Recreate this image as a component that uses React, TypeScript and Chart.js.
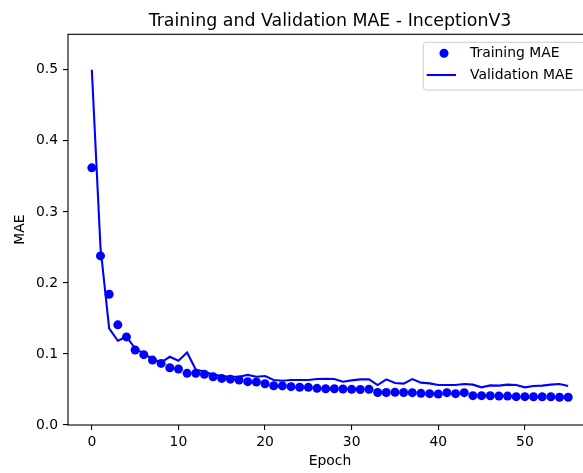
import React, { useEffect, useRef } from "react";
import { Chart, registerables } from "chart.js";

Chart.register(...registerables);

const trainingMAE = [
  0.362, 0.238, 0.184, 0.141, 0.124, 0.1055, 0.099, 0.0914, 0.0867, 0.0806,
  0.0788, 0.0727, 0.0727, 0.0713, 0.068, 0.0656, 0.0645, 0.0633, 0.061, 0.0605,
  0.058, 0.0552, 0.055, 0.054, 0.0532, 0.053, 0.0516, 0.0511, 0.051, 0.0507,
  0.0502, 0.05, 0.0503, 0.0458, 0.0457, 0.046, 0.0457, 0.0455, 0.0446, 0.0441,
  0.0436, 0.0455, 0.0441, 0.0455, 0.0413, 0.0413, 0.0412, 0.0408, 0.0407, 0.0399,
  0.0399, 0.0398, 0.0398, 0.0397, 0.039, 0.039,
];

const validationMAE = [
  0.5, 0.25, 0.136, 0.1186, 0.124, 0.108, 0.1, 0.093, 0.088, 0.096,
  0.0905, 0.102, 0.078, 0.075, 0.071, 0.069, 0.068, 0.068, 0.0705, 0.068,
  0.069, 0.0633, 0.0624, 0.0633, 0.0633, 0.0633, 0.0647, 0.0652, 0.0647, 0.061,
  0.0628, 0.0642, 0.0642, 0.0563, 0.0642, 0.0591, 0.0582, 0.0647, 0.0596, 0.0586,
  0.0563, 0.0563, 0.0563, 0.0577, 0.0568, 0.053, 0.0558, 0.0554, 0.0568, 0.0563,
  0.053, 0.0549, 0.0554, 0.0568, 0.0577, 0.0549,
];

const xTicks = [0, 10, 20, 30, 40, 50];
const yTicks = [0, 0.1, 0.2, 0.3, 0.4, 0.5];

const titleText = "Training and Validation MAE - InceptionV3";
const xLabel = "Epoch";
const yLabel = "MAE";
const legendLabels = ["Training MAE", "Validation MAE"];

const FONT = '"DejaVu Sans", sans-serif';
const BLUE = "#0000ff";

const CANVAS_W = 620;
const CANVAS_H = 473;

const decorPlugin = {
  id: "decor",
  afterDraw(chart: any) {
    const ctx = chart.ctx;
    const a = chart.chartArea;
    ctx.save();
    // frame
    ctx.strokeStyle = "#000";
    ctx.lineWidth = 1.1;
    ctx.strokeRect(a.left, a.top, a.right - a.left, a.bottom - a.top);

    // title
    ctx.fillStyle = "#000";
    ctx.font = `17.4px ${FONT}`;
    ctx.textAlign = "center";
    ctx.textBaseline = "alphabetic";
    const cx = (a.left + a.right) / 2;
    ctx.fillText(titleText, cx, a.top - 8.6);

    // x label
    ctx.font = `13.9px ${FONT}`;
    ctx.textBaseline = "middle";
    ctx.fillText(xLabel, cx, 461);

    // y label
    ctx.save();
    ctx.translate(20, (a.top + a.bottom) / 2);
    ctx.rotate(-Math.PI / 2);
    ctx.fillText(yLabel, 0, 0);
    ctx.restore();

    // legend
    const lx = 423.3, ly = 42.3, lw = 585 - 423.3, lh = 90 - 42.3, r = 3;
    ctx.beginPath();
    ctx.moveTo(lx + r, ly);
    ctx.lineTo(lx + lw - r, ly);
    ctx.arcTo(lx + lw, ly, lx + lw, ly + r, r);
    ctx.lineTo(lx + lw, ly + lh - r);
    ctx.arcTo(lx + lw, ly + lh, lx + lw - r, ly + lh, r);
    ctx.lineTo(lx + r, ly + lh);
    ctx.arcTo(lx, ly + lh, lx, ly + lh - r, r);
    ctx.lineTo(lx, ly + r);
    ctx.arcTo(lx, ly, lx + r, ly, r);
    ctx.closePath();
    ctx.fillStyle = "rgba(255,255,255,0.8)";
    ctx.fill();
    ctx.strokeStyle = "#cccccc";
    ctx.lineWidth = 1;
    ctx.stroke();

    ctx.fillStyle = BLUE;
    ctx.beginPath();
    ctx.arc(444, 53.3, 4.5, 0, Math.PI * 2);
    ctx.fill();

    ctx.strokeStyle = BLUE;
    ctx.lineWidth = 2.1;
    ctx.beginPath();
    ctx.moveTo(426.7, 75);
    ctx.lineTo(456, 75);
    ctx.stroke();

    ctx.fillStyle = "#000";
    ctx.font = `13.9px ${FONT}`;
    ctx.textAlign = "left";
    ctx.textBaseline = "middle";
    ctx.fillText(legendLabels[0], 470, 53.3);
    ctx.fillText(legendLabels[1], 470, 75);
    ctx.restore();
  },
};

export default function App() {
  const ref = useRef<HTMLCanvasElement | null>(null);

  useEffect(() => {
    if (!ref.current) return;
    const chart = new Chart(ref.current, {
      type: "scatter",
      data: {
        datasets: [
          {
            label: legendLabels[0],
            data: trainingMAE.map((v, i) => ({ x: i, y: v })),
            showLine: false,
            pointRadius: 4.5,
            pointBackgroundColor: BLUE,
            pointBorderWidth: 0,
            borderColor: BLUE,
            order: 2,
          },
          {
            label: legendLabels[1],
            data: validationMAE.map((v, i) => ({ x: i, y: v })),
            showLine: true,
            pointRadius: 0,
            borderColor: BLUE,
            borderWidth: 2.1,
            tension: 0,
            order: 1,
          },
        ],
      },
      options: {
        animation: false,
        responsive: false,
        devicePixelRatio: 1,
        layout: { padding: { top: 34.3, left: 0, right: CANVAS_W - 592, bottom: 0 } },
        plugins: {
          legend: { display: false },
          title: { display: false },
          tooltip: { enabled: false },
        },
        scales: {
          x: {
            type: "linear",
            min: -2.75,
            max: 57.75,
            afterFit: (s: any) => {
              s.height = CANVAS_H - 425;
            },
            afterBuildTicks: (s: any) => {
              s.ticks = xTicks.map((v) => ({ value: v }));
            },
            border: { display: false },
            grid: {
              display: true,
              drawOnChartArea: false,
              drawTicks: true,
              tickLength: 5,
              tickColor: "#000",
              lineWidth: 1.1,
            },
            ticks: {
              color: "#000",
              font: { family: FONT, size: 13.9 },
              padding: 4,
              maxRotation: 0,
              autoSkip: false,
              callback: (v: any) => String(v),
            },
          },
          y: {
            type: "linear",
            min: 0,
            max: 0.55,
            afterFit: (s: any) => {
              s.width = 68;
            },
            afterBuildTicks: (s: any) => {
              s.ticks = yTicks.map((v) => ({ value: v }));
            },
            border: { display: false },
            grid: {
              display: true,
              drawOnChartArea: false,
              drawTicks: true,
              tickLength: 5,
              tickColor: "#000",
              lineWidth: 1.1,
            },
            ticks: {
              color: "#000",
              font: { family: FONT, size: 13.9 },
              padding: 5,
              autoSkip: false,
              callback: (v: any) => Number(v).toFixed(1),
            },
          },
        },
      },
      plugins: [decorPlugin],
    } as any);
    return () => chart.destroy();
  }, []);

  return (
    <div
      style={{
        position: "fixed",
        left: 0,
        top: 0,
        width: 583,
        height: 473,
        overflow: "hidden",
        background: "#fff",
      }}
    >
      <canvas
        ref={ref}
        width={CANVAS_W}
        height={CANVAS_H}
        style={{ display: "block", width: CANVAS_W, height: CANVAS_H }}
      />
    </div>
  );
}
